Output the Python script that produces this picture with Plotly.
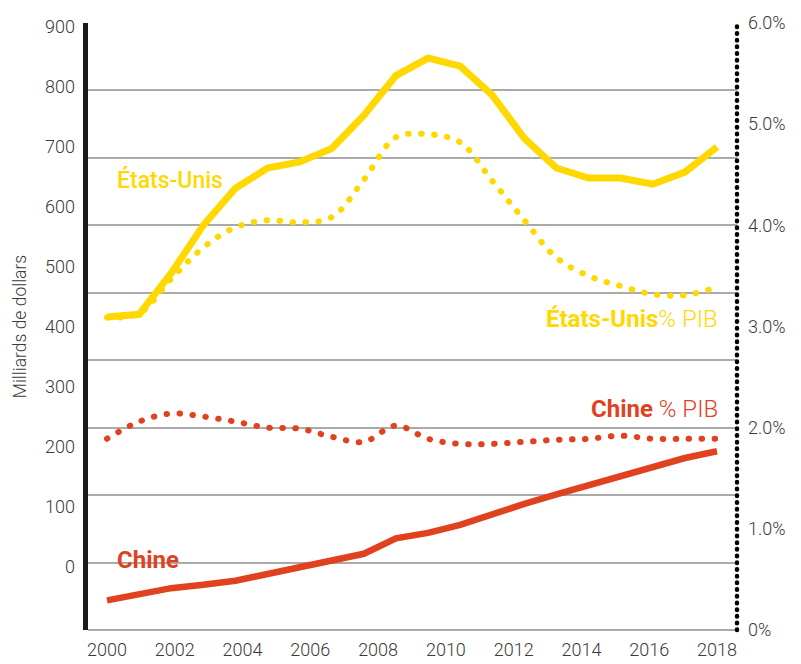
import numpy as np
import plotly.graph_objects as go

# Dépenses militaires, milliards de dollars (20 points répartis sur 2000-2018)
us_bn = [464, 468, 529, 600, 655, 685, 694, 714, 763, 822,
         848, 836, 793, 729, 685, 670, 670, 661, 679, 716]
china_bn = [44, 53, 62, 67, 73, 83, 93, 104, 113, 136,
            144, 156, 172, 187, 201, 215, 227, 241, 255, 265]

# Dépenses militaires en % du PIB
us_pct = [3.09, 3.13, 3.47, 3.78, 3.98, 4.05, 4.03, 4.08, 4.45, 4.87,
          4.90, 4.82, 4.44, 4.05, 3.68, 3.50, 3.40, 3.32, 3.31, 3.39]
china_pct = [1.89, 2.06, 2.14, 2.11, 2.06, 2.00, 1.99, 1.91, 1.86, 2.02,
             1.89, 1.84, 1.84, 1.86, 1.88, 1.89, 1.92, 1.89, 1.89, 1.89]

year_labels = ["2000", "2002", "2004", "2006", "2008",
               "2010", "2012", "2014", "2016", "2018"]
left_labels = ["0", "100", "200", "300", "400", "500", "600", "700", "800", "900"]
right_labels = ["0%", "1.0%", "2.0%", "3.0%", "4.0%", "5.0%", "6.0%"]

YELLOW = "#FFD800"
RED = "#E0411F"
GREY_TXT = "#3a3a3a"
FONT = "Roboto"

x = np.linspace(2000, 2018, len(us_bn))
year_vals = [int(v) for v in year_labels]

fig = go.Figure()

# ─── séries en % du PIB (pointillés, axe de droite) ─────────────────────────
for vals, col in [(us_pct, YELLOW), (china_pct, RED)]:
    fig.add_trace(go.Scatter(
        x=x, y=vals, yaxis="y2", mode="lines",
        line=dict(color=col, width=6, dash="0.5px,12.5px", shape="spline"),
        hoverinfo="skip", showlegend=False,
    ))

# ─── séries en milliards (traits pleins) ────────────────────────────────────
fig.add_trace(go.Scatter(
    x=x, y=us_bn, mode="lines",
    line=dict(color=YELLOW, width=7),
    hoverinfo="skip", showlegend=False,
))
fig.add_trace(go.Scatter(
    x=x, y=china_bn, mode="lines",
    line=dict(color=RED, width=6.5),
    hoverinfo="skip", showlegend=False,
))
# trace vide pour que l'axe des libellés (y3) soit dessiné
fig.add_trace(go.Scatter(x=[], y=[], yaxis="y3", showlegend=False, hoverinfo="skip"))

# axe droit en pointillés noirs
fig.add_shape(
    type="line", xref="paper", yref="paper", x0=1, x1=1, y0=0, y1=1,
    line=dict(color="black", width=4.5, dash="0.5px,6.2px"),
)

tick_font = dict(family=FONT, size=18, color=GREY_TXT, weight=300)

annots = [
    dict(x=2000.25, y=4.45, text="États-Unis", xanchor="left",
         font=dict(color=YELLOW, size=23, weight=500)),
    dict(x=2018.1, y=3.07, text="<b>États-Unis</b>% PIB", xanchor="right",
         font=dict(color=YELLOW, size=24, weight=300)),
    dict(x=2018.1, y=2.18, text="<b>Chine</b> % PIB", xanchor="right",
         font=dict(color=RED, size=24, weight=300)),
    dict(x=2000.25, y=0.69, text="<b>Chine</b>", xanchor="left",
         font=dict(color=RED, size=24, weight=300)),
]
for a in annots:
    a["font"]["family"] = FONT
    fig.add_annotation(xref="x", yref="y2", showarrow=False,
                       yanchor="middle", **a)

fig.update_layout(
    width=801, height=664,
    margin=dict(l=88, r=64, t=23, b=34, autoexpand=False),
    paper_bgcolor="white", plot_bgcolor="white",
    xaxis=dict(
        range=[1999.44, 2018.59], automargin=False,
        tickvals=year_vals, ticktext=year_labels,
        tickfont=tick_font, ticks="", ticklabelstandoff=7,
        showgrid=False, zeroline=False, showline=False,
    ),
    yaxis=dict(
        range=[0, 900], dtick=100, automargin=False,
        showticklabels=False, ticks="",
        showgrid=True, gridcolor="#aaaaaa", gridwidth=1.5,
        zeroline=True, zerolinecolor="#aaaaaa", zerolinewidth=1.5,
        showline=True, linecolor="#1a1a1a", linewidth=5,
    ),
    yaxis2=dict(
        range=[0, 6], overlaying="y", side="right", automargin=False,
        tickvals=list(range(len(right_labels))), ticktext=right_labels,
        tickfont=tick_font, ticks="", ticklabelstandoff=10,
        showgrid=False, zeroline=False, showline=False,
    ),
    yaxis3=dict(
        range=[-105, 906], overlaying="y", side="left", automargin=False,
        tickvals=[int(v) for v in left_labels], ticktext=left_labels,
        tickfont=tick_font, ticks="", ticklabelstandoff=12,
        showgrid=False, zeroline=False, showline=False,
        title=dict(text="Milliards de dollars", standoff=13,
                   font=dict(family=FONT, size=17.5, color=GREY_TXT, weight=300)),
    ),
)

# page sans marge + points ronds pour les pointillés
post_js = """
document.body.style.margin = '0';
var gd = document.getElementById('{plot_id}');
function roundDots() {
  gd.querySelectorAll('path').forEach(function(p) {
    var d = p.style.strokeDasharray;
    if (d && d !== 'none' && d !== '') { p.style.strokeLinecap = 'round'; }
  });
}
roundDots();
gd.on('plotly_afterplot', roundDots);
"""

fig.write_html("out.html", config={"displayModeBar": False}, post_script=post_js)
